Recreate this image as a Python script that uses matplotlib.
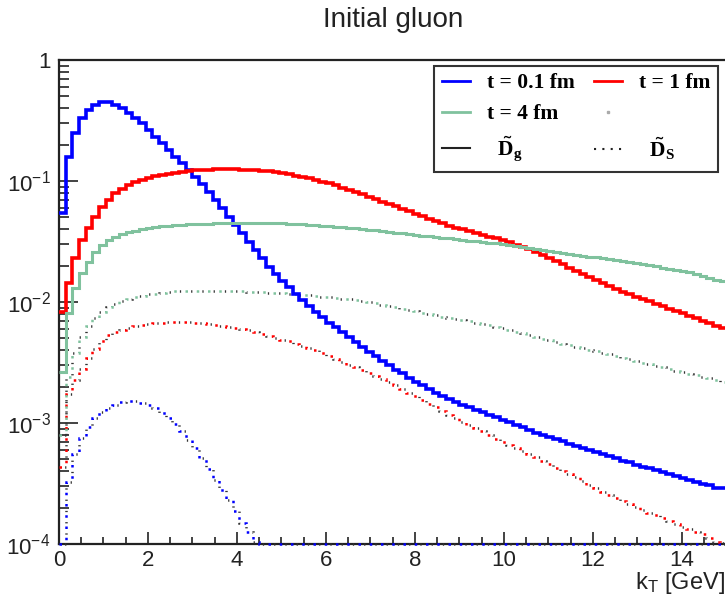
import numpy as np
import matplotlib
matplotlib.use('Agg')
import matplotlib.pyplot as plt
from matplotlib.lines import Line2D
from matplotlib.ticker import FixedLocator, FixedFormatter, LogLocator, MultipleLocator, NullFormatter

plt.rcParams['font.family'] = ['Liberation Sans', 'DejaVu Sans']
plt.rcParams['mathtext.fontset'] = 'custom'
plt.rcParams['mathtext.rm'] = 'Liberation Sans'
plt.rcParams['mathtext.it'] = 'Liberation Sans:italic'
plt.rcParams['mathtext.bf'] = 'Liberation Serif:bold'

# histogram binning: 100 bins of 0.15 GeV between 0 and 15 GeV
KT_MIN, KT_MAX, N_BINS = 0.0, 15.0, 100

# log10 of the bin contents
# D_g (solid)
logDg_t01 = [-1.267, -0.80, -0.60, -0.48, -0.413, -0.372, -0.35, -0.35, -0.372, -0.40,
             -0.44, -0.48, -0.523, -0.579, -0.634, -0.689, -0.744, -0.80, -0.854, -0.909,
             -0.964, -1.025, -1.088, -1.157, -1.226, -1.295, -1.364, -1.43, -1.50, -1.57,
             -1.64, -1.71, -1.77, -1.83, -1.88, -1.93, -1.98, -2.03, -2.08, -2.125,
             -2.17, -2.21, -2.25, -2.29, -2.33, -2.37, -2.41, -2.45, -2.49, -2.52,
             -2.56, -2.59, -2.625, -2.66, -2.69, -2.72, -2.75, -2.775, -2.80, -2.825,
             -2.85, -2.87, -2.89, -2.91, -2.93, -2.95, -2.975, -2.995, -3.015, -3.035,
             -3.06, -3.08, -3.10, -3.115, -3.135, -3.15, -3.17, -3.19, -3.205, -3.22,
             -3.24, -3.255, -3.27, -3.29, -3.31, -3.325, -3.345, -3.36, -3.375, -3.39,
             -3.405, -3.42, -3.44, -3.455, -3.47, -3.485, -3.50, -3.515, -3.54, -3.54]
logDg_t1 = [-2.08, -1.84, -1.64, -1.488, -1.391, -1.295, -1.212, -1.157, -1.102, -1.07,
            -1.035, -1.01, -0.99, -0.975, -0.962, -0.95, -0.94, -0.932, -0.925, -0.918,
            -0.913, -0.909, -0.906, -0.904, -0.903, -0.903, -0.903, -0.905, -0.908, -0.911,
            -0.915, -0.92, -0.927, -0.935, -0.945, -0.955, -0.966, -0.978, -0.99, -1.005,
            -1.02, -1.037, -1.055, -1.075, -1.092, -1.11, -1.13, -1.15, -1.17, -1.19,
            -1.21, -1.23, -1.25, -1.27, -1.29, -1.31, -1.33, -1.35, -1.37, -1.385,
            -1.40, -1.415, -1.43, -1.445, -1.46, -1.475, -1.49, -1.507, -1.525, -1.545,
            -1.565, -1.59, -1.615, -1.64, -1.665, -1.69, -1.715, -1.74, -1.765, -1.79,
            -1.815, -1.84, -1.865, -1.89, -1.915, -1.935, -1.955, -1.975, -1.995, -2.015,
            -2.035, -2.055, -2.075, -2.095, -2.115, -2.135, -2.155, -2.175, -2.195, -2.215]
logDg_t4 = [-2.58, -2.09, -1.887, -1.763, -1.667, -1.584, -1.529, -1.488, -1.46, -1.44,
            -1.425, -1.41, -1.40, -1.39, -1.382, -1.375, -1.37, -1.365, -1.36, -1.357,
            -1.355, -1.353, -1.352, -1.351, -1.35, -1.35, -1.35, -1.35, -1.35, -1.35,
            -1.35, -1.35, -1.35, -1.35, -1.352, -1.354, -1.357, -1.36, -1.364, -1.368,
            -1.372, -1.377, -1.382, -1.387, -1.392, -1.397, -1.403, -1.409, -1.415, -1.421,
            -1.427, -1.433, -1.439, -1.445, -1.451, -1.457, -1.463, -1.469, -1.475, -1.48,
            -1.486, -1.492, -1.498, -1.504, -1.51, -1.515, -1.52, -1.528, -1.536, -1.544,
            -1.552, -1.56, -1.568, -1.576, -1.584, -1.592, -1.60, -1.608, -1.616, -1.624,
            -1.632, -1.64, -1.648, -1.656, -1.664, -1.672, -1.68, -1.688, -1.696, -1.704,
            -1.715, -1.725, -1.735, -1.745, -1.755, -1.77, -1.785, -1.80, -1.815, -1.83]
# D_S (dotted)
logDs_t01 = [-4.0, -3.49, -3.26, -3.12, -3.03, -2.96, -2.91, -2.88, -2.85, -2.83,
             -2.82, -2.82, -2.835, -2.85, -2.88, -2.92, -2.96, -3.01, -3.07, -3.14,
             -3.21, -3.29, -3.38, -3.47, -3.555, -3.64, -3.73, -3.83, -3.90, -3.98] + [-4.0] * 70
logDs_t1 = [-3.36, -2.76, -2.645, -2.55, -2.46, -2.385, -2.32, -2.27, -2.245, -2.23,
            -2.215, -2.20, -2.19, -2.18, -2.175, -2.17, -2.166, -2.163, -2.163, -2.166,
            -2.17, -2.176, -2.182, -2.19, -2.197, -2.204, -2.212, -2.222, -2.235, -2.25,
            -2.265, -2.28, -2.295, -2.31, -2.325, -2.345, -2.36, -2.38, -2.40, -2.425,
            -2.445, -2.47, -2.495, -2.52, -2.54, -2.565, -2.59, -2.615, -2.64, -2.665,
            -2.69, -2.72, -2.75, -2.78, -2.81, -2.84, -2.87, -2.90, -2.93, -2.96,
            -2.99, -3.02, -3.045, -3.07, -3.10, -3.13, -3.155, -3.18, -3.205, -3.23,
            -3.255, -3.28, -3.31, -3.34, -3.37, -3.395, -3.42, -3.45, -3.48, -3.51,
            -3.54, -3.57, -3.595, -3.62, -3.645, -3.67, -3.695, -3.72, -3.74, -3.76,
            -3.785, -3.81, -3.835, -3.86, -3.88, -3.90, -3.92, -3.95, -3.98, -3.99]
logDs_t4 = [-3.1, -2.62, -2.42, -2.29, -2.20, -2.13, -2.08, -2.045, -2.015, -1.995,
            -1.975, -1.96, -1.948, -1.938, -1.93, -1.924, -1.918, -1.913, -1.91, -1.908,
            -1.906, -1.905, -1.905, -1.905, -1.906, -1.908, -1.91, -1.912, -1.915, -1.918,
            -1.92, -1.923, -1.926, -1.929, -1.932, -1.936, -1.94, -1.944, -1.952, -1.956,
            -1.961, -1.966, -1.972, -1.978, -1.984, -1.99, -1.999, -2.01, -2.021, -2.032,
            -2.043, -2.054, -2.065, -2.076, -2.087, -2.098, -2.109, -2.12, -2.13, -2.14,
            -2.15, -2.16, -2.17, -2.18, -2.193, -2.206, -2.219, -2.232, -2.246, -2.26,
            -2.274, -2.288, -2.302, -2.316, -2.33, -2.344, -2.358, -2.37, -2.382, -2.394,
            -2.406, -2.418, -2.432, -2.446, -2.46, -2.474, -2.488, -2.502, -2.515, -2.528,
            -2.541, -2.554, -2.567, -2.58, -2.593, -2.606, -2.619, -2.632, -2.645, -2.658]

labels_t = ['t = 0.1 fm', 't = 1 fm', 't = 4 fm']
colors_t = ['#0000ff', '#ff0000', '#80c29e']
ytick_vals = [1e-4, 1e-3, 1e-2, 1e-1, 1]
ytick_labels = ['10$^{-4}$', '10$^{-3}$', '10$^{-2}$', '10$^{-1}$', '1']

edges = np.linspace(KT_MIN, KT_MAX, N_BINS + 1)

fig = plt.figure(figsize=(7.25, 5.95), dpi=100)
ax = fig.add_axes([59/725, 1 - 544/595, 667.5/725, 484/595])
ax.set_yscale('log')

solid = [logDg_t01, logDg_t1, logDg_t4]
dotted = [logDs_t01, logDs_t1, logDs_t4]
widths = [2.6, 2.6, 2.2]

for vals, col in zip(dotted, colors_t):
    v = 10 ** np.array(vals)
    ax.stairs(v, edges, baseline=None, color=col, lw=1.8,
              linestyle=(0, (1, 3.5)), clip_on=False, zorder=3)
    ax.stairs(v, edges, baseline=None, color='#333333', lw=1.8,
              linestyle=(2.25, (0.5, 4)), clip_on=False, zorder=3)

for vals, col, w in zip(solid, colors_t, widths):
    ax.stairs(10 ** np.array(vals), edges, baseline=None, color=col, lw=w, zorder=4)

ax.set_xlim(KT_MIN, KT_MAX)
ax.set_ylim(1e-4, 1)

ax.xaxis.set_major_locator(MultipleLocator(2))
ax.xaxis.set_minor_locator(MultipleLocator(0.5))
ax.yaxis.set_major_locator(FixedLocator(ytick_vals))
ax.yaxis.set_major_formatter(FixedFormatter(ytick_labels))
ax.yaxis.set_minor_locator(LogLocator(base=10, subs=np.arange(2, 10)))
ax.yaxis.set_minor_formatter(NullFormatter())

ax.tick_params(which='both', direction='in', top=False, right=False, width=1.2,
               labelsize=16, colors='#222222')
ax.tick_params(axis='x', which='major', length=8.5, pad=4)
ax.tick_params(axis='x', which='minor', length=5)
ax.tick_params(axis='y', which='major', length=14, pad=6)
ax.tick_params(axis='y', which='minor', length=7)
for s in ax.spines.values():
    s.set_linewidth(1.6)
    s.set_color('#222222')

# legend, ROOT style, two columns
h = [Line2D([], [], color=colors_t[0], lw=2),
     Line2D([], [], color=colors_t[2], lw=2),
     Line2D([], [], color='#222222', lw=1.5),
     Line2D([], [], color=colors_t[1], lw=2),
     Line2D([], [], ls='none', marker='s', ms=1.5, color='#aaaaaa'),
     Line2D([], [], color='#222222', lw=1.5, linestyle=(0, (1, 3)))]
lab = [labels_t[0], labels_t[2], r'  $\tilde{\mathbf{D}}_{\mathbf{g}}$',
       labels_t[1], ' ', r'  $\tilde{\mathbf{D}}_{\mathbf{S}}$']
leg = ax.legend(h, lab, ncol=2, loc='upper left',
                bbox_to_anchor=(0.562, 0.988, 0.425, 0.0), mode='expand',
                borderaxespad=0, frameon=True, fancybox=False, framealpha=1,
                edgecolor='#333333', handlelength=1.3, handletextpad=0.8,
                labelspacing=0.5, columnspacing=1.0, borderpad=0.35,
                prop={'family': 'Liberation Serif', 'weight': 'bold', 'size': 15.5})
leg.get_frame().set_linewidth(1.5)
leg.set_zorder(6)

fig.text(393/725, 1 - 20/595, 'Initial gluon', ha='center', va='center',
         fontsize=20, color='#222222')
fig.text(1.0, 1 - 583/595, r'k$_\mathregular{T}$ [GeV]', ha='right', va='center',
         fontsize=17, color='#222222')

fig.savefig('out.png', dpi=100)
